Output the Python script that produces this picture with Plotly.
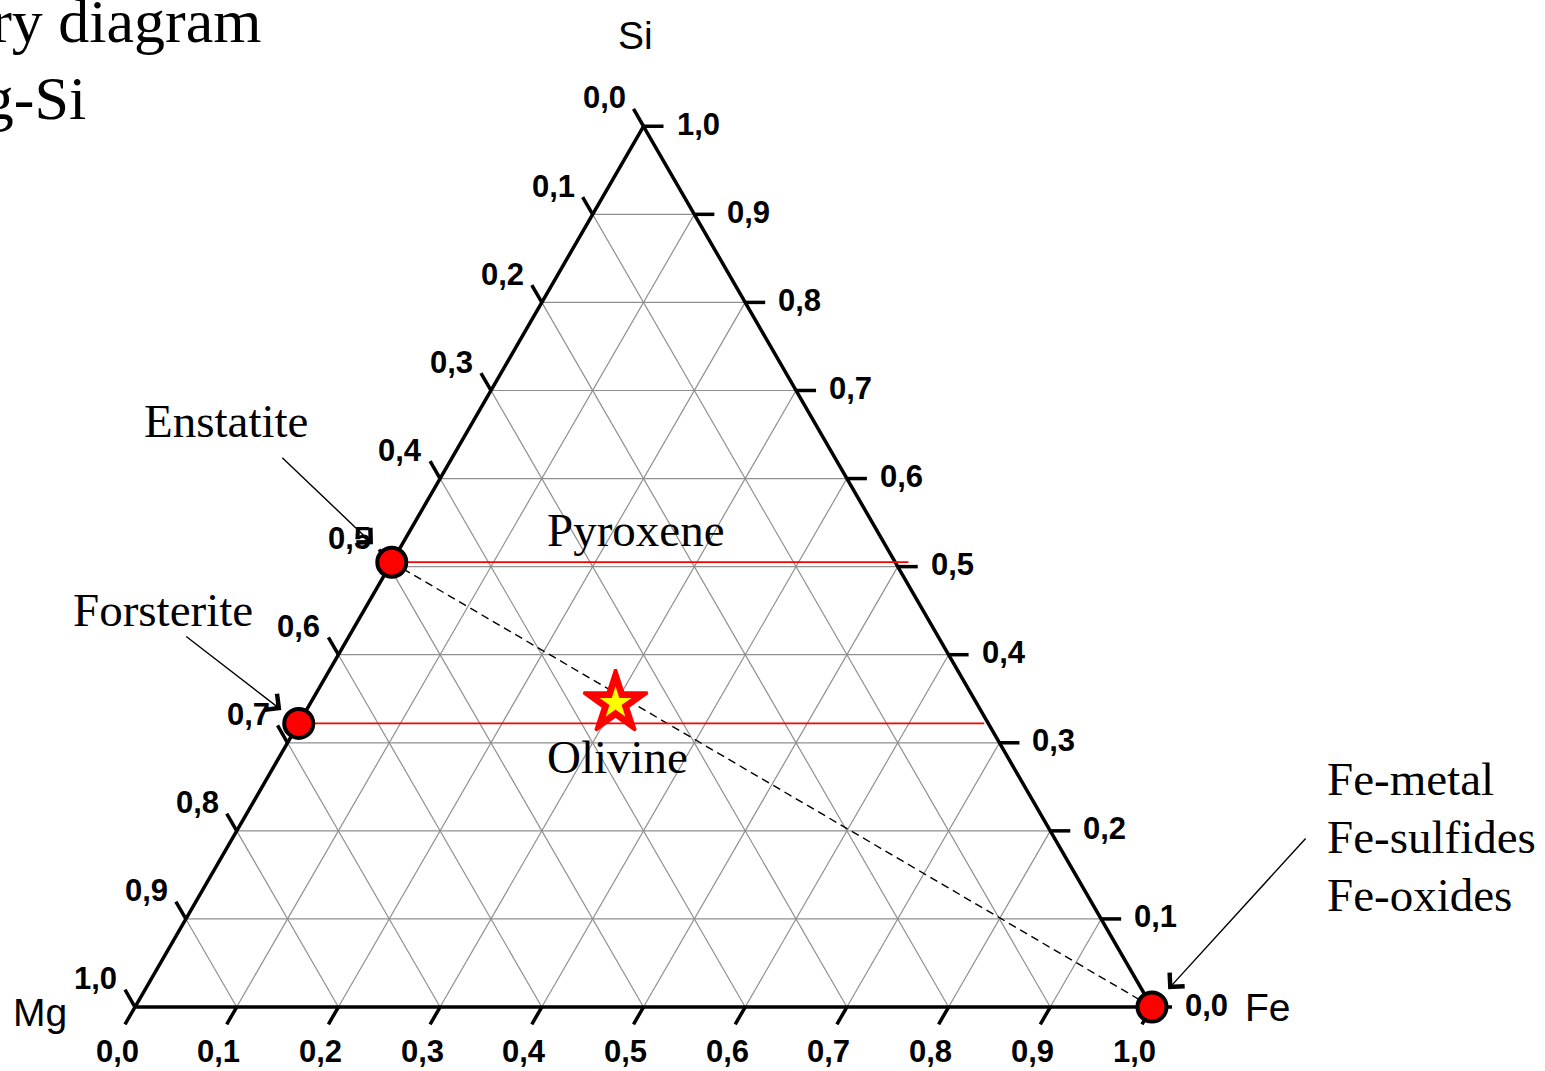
import numpy as np
import plotly.graph_objects as go

# ---------------- data ----------------
tick_values = [0.0, 0.1, 0.2, 0.3, 0.4, 0.5, 0.6, 0.7, 0.8, 0.9, 1.0]
tick_labels = ["0,0", "0,1", "0,2", "0,3", "0,4", "0,5", "0,6", "0,7", "0,8", "0,9", "1,0"]

# end-member minerals on the Mg-Si join (Fe = 0)
mineral_names = ["Enstatite", "Forsterite"]
mineral_fe = [0.0, 0.0]
mineral_si = [0.505, 0.322]
iso_si_end_fe = [0.508, 0.674]      # right end of the red constant-Si lines

# iron phases sit in the Fe corner
iron_fe = [1.0]
iron_si = [0.0]
iron_phases = ["Fe-metal", "Fe-sulfides", "Fe-oxides"]

# bulk composition (star)
bulk_fe = [0.30]
bulk_si = [0.345]

field_names = ["Pyroxene", "Olivine"]

# ---------------- geometry ----------------
W, H = 1545, 1071
SIDE = 1017.0            # triangle side length in pixels
X0, Y0 = 135.0, 1007.0   # pixel position of the Mg corner
R3 = np.sqrt(3) / 2
TICK = 20 / SIDE

SANS = "Liberation Sans, Arial, sans-serif"
SERIF = "Liberation Serif, Times New Roman, serif"


def tern(fe, si):
    """Fe / Si fractions -> cartesian, Mg corner at (0,0), Fe corner at (1,0)."""
    return float(fe) + float(si) / 2, float(si) * R3


def px(xp, yp):
    """Page pixel position -> data coordinates."""
    return (xp - X0) / SIDE, (Y0 - yp) / SIDE


fig = go.Figure()

# grid lines (constant Si, constant Fe, constant Mg)
gx, gy = [], []
for t in tick_values[1:-1]:
    for a, b in [((0, t), (1 - t, t)),
                 ((t, 0), (t, 1 - t)),
                 ((1 - t, 0), (0, 1 - t))]:
        p, q = tern(*a), tern(*b)
        gx += [p[0], q[0], None]
        gy += [p[1], q[1], None]
fig.add_trace(go.Scatter(x=gx, y=gy, mode="lines",
                         line=dict(color="#8f8f8f", width=1.2), hoverinfo="skip"))

# dashed tie line Enstatite -> Fe corner
p, q = tern(mineral_fe[0], mineral_si[0]), tern(iron_fe[0], iron_si[0])
fig.add_trace(go.Scatter(x=[p[0], q[0]], y=[p[1], q[1]], mode="lines",
                         line=dict(color="black", width=1.4, dash="8px,5px"),
                         hoverinfo="skip"))

# triangle outline
corners = [tern(0, 0), tern(1, 0), tern(0, 1), tern(0, 0)]
fig.add_trace(go.Scatter(x=[c[0] for c in corners], y=[c[1] for c in corners],
                         mode="lines", line=dict(color="black", width=3.5),
                         hoverinfo="skip"))

# tick marks, each parallel to the grid lines of its own component
tx, ty = [], []
annotations = []
tick_font = dict(family=SANS, size=31, color="black")
for t, lab in zip(tick_values, tick_labels):
    # Fe along the bottom
    bx, by = tern(t, 0)
    ex, ey = bx - 0.5 * TICK, by - R3 * TICK
    tx += [bx, ex, None]
    ty += [by, ey, None]
    annotations.append(dict(x=ex, y=ey, text=f"<b>{lab}</b>", showarrow=False,
                            xanchor="center", yanchor="middle", xshift=-8, yshift=-27,
                            font=tick_font))
    # Mg along the left side
    lx, ly = tern(0, 1 - t)
    ex, ey = lx - 0.5 * TICK, ly + R3 * TICK
    tx += [lx, ex, None]
    ty += [ly, ey, None]
    annotations.append(dict(x=ex, y=ey, text=f"<b>{lab}</b>", showarrow=False,
                            xanchor="right", yanchor="middle", xshift=-6, yshift=11,
                            font=tick_font))
    # Si along the right side
    rx, ry = tern(1 - t, t)
    ex, ey = rx + TICK, ry
    tx += [rx, ex, None]
    ty += [ry, ey, None]
    annotations.append(dict(x=ex, y=ey, text=f"<b>{lab}</b>", showarrow=False,
                            xanchor="left", yanchor="middle", xshift=11, yshift=2,
                            font=tick_font))
fig.add_trace(go.Scatter(x=tx, y=ty, mode="lines",
                         line=dict(color="black", width=3.5), hoverinfo="skip"))

# red constant-Si lines through enstatite and forsterite
for fe0, si0, fe1 in zip(mineral_fe, mineral_si, iso_si_end_fe):
    p, q = tern(fe0, si0), tern(fe1, si0)
    fig.add_trace(go.Scatter(x=[p[0], q[0]], y=[p[1], q[1]], mode="lines",
                             line=dict(color="#ff0000", width=1.8), hoverinfo="skip"))

# mineral and iron points
pts = [tern(f, s) for f, s in zip(mineral_fe + iron_fe, mineral_si + iron_si)]
fig.add_trace(go.Scatter(x=[p[0] for p in pts], y=[p[1] for p in pts], mode="markers",
                         marker=dict(size=29, color="#ff0000",
                                     line=dict(color="black", width=4)),
                         hoverinfo="skip"))

# bulk composition star
sx, sy = tern(bulk_fe[0], bulk_si[0])
fig.add_trace(go.Scatter(x=[sx], y=[sy], mode="markers",
                         marker=dict(symbol="star", size=48, color="#ff0000",
                                     line=dict(color="#ff0000", width=3)),
                         hoverinfo="skip"))
fig.add_trace(go.Scatter(x=[sx], y=[sy], mode="markers",
                         marker=dict(symbol="star", size=24, color="#ffff00",
                                     line=dict(width=0)),
                         hoverinfo="skip"))

# component names
for name, (xp, yp, anchor) in zip(["Si", "Mg", "Fe"],
                                   [(635, 35, "center"), (40, 1012, "center"),
                                    (1268, 1007, "center")]):
    x, y = px(xp, yp)
    annotations.append(dict(x=x, y=y, text=name, showarrow=False, xanchor=anchor,
                            yanchor="middle",
                            font=dict(family=SANS, size=39, color="black")))

# serif labels
serif48 = dict(family=SERIF, size=47, color="black")
label_pos = {
    "Enstatite": (226, 421, "center"),
    "Forsterite": (163, 610, "center"),
    "Pyroxene": (636, 530, "center"),
    "Olivine": (617, 757, "center"),
    "Fe-metal": (1325, 779, "left"),
    "Fe-sulfides": (1325, 837, "left"),
    "Fe-oxides": (1325, 895, "left"),
}
for name in mineral_names + field_names + iron_phases:
    xp, yp, anchor = label_pos[name]
    x, y = px(xp, yp)
    annotations.append(dict(x=x, y=y, text=name, showarrow=False, xanchor=anchor,
                            yanchor="middle", font=serif48))

# pointer arrows to the points (tail offsets in screen pixels, y down)
arrow_specs = [
    (mineral_fe[0], mineral_si[0], -111, -106, 26),
    (mineral_fe[1], mineral_si[1], -114, -88, 22),
    (iron_fe[0], iron_si[0], 155, -170, 24),
]
for fe, si, ax, ay, stand in arrow_specs:
    x, y = tern(fe, si)
    annotations.append(dict(x=x, y=y, ax=ax, ay=ay, text="", showarrow=True,
                            arrowhead=4, arrowsize=2.8, arrowwidth=1.4,
                            arrowcolor="black", standoff=stand))

# heading, partly running off the left edge of the page
for text, xp, yp in [("Ternary diagram", 264, 21), ("Fe-Mg-Si", 88, 98)]:
    x, y = px(xp, yp)
    annotations.append(dict(x=x, y=y, text=text, showarrow=False, xanchor="right",
                            yanchor="middle",
                            font=dict(family=SERIF, size=62, color="black")))

x_lo, x_hi = -X0 / SIDE, (W - X0) / SIDE
y_lo, y_hi = -(H - Y0) / SIDE, Y0 / SIDE
fig.update_layout(
    width=W, height=H,
    margin=dict(l=0, r=0, t=0, b=0),
    paper_bgcolor="white", plot_bgcolor="white",
    showlegend=False,
    xaxis=dict(range=[x_lo, x_hi], visible=False, fixedrange=True),
    yaxis=dict(range=[y_lo, y_hi], visible=False, fixedrange=True),
    annotations=annotations,
)

fig.write_html("out.html")
